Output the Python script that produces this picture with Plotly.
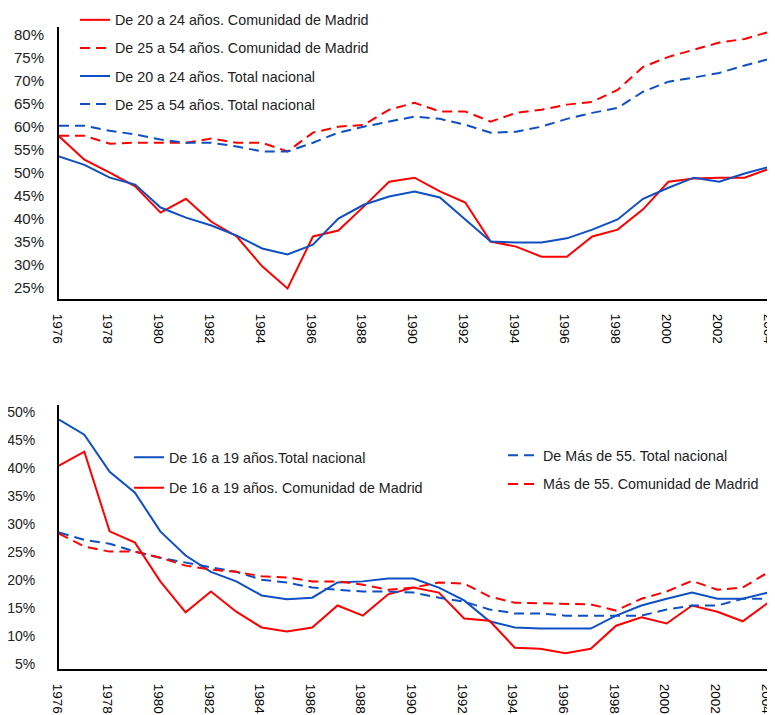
import plotly.graph_objects as go

years = list(range(1976, 2005))
tick_years = list(range(1976, 2005, 2))
tick_labels = [str(y) for y in tick_years]

# Top chart (% values)
madrid_20_24 = [57.9, 52.8, 50.0, 47.0, 41.3, 44.3, 39.3, 36.1, 29.6, 24.8,
                36.1, 37.4, 42.6, 48.0, 48.9, 45.9, 43.5, 35.0, 33.9, 31.7,
                31.7, 36.1, 37.6, 42.0, 48.0, 48.7, 48.9, 48.9, 50.9]
madrid_25_54 = [58.0, 58.0, 56.3, 56.5, 56.5, 56.5, 57.4, 56.5, 56.5, 54.6,
                58.7, 60.0, 60.4, 63.7, 65.2, 63.3, 63.3, 61.1, 63.0, 63.7,
                64.8, 65.4, 68.0, 73.0, 75.2, 76.7, 78.3, 79.1, 80.7]
nacional_20_24 = [53.5, 51.7, 48.9, 47.4, 42.4, 40.2, 38.5, 36.3, 33.5, 32.2,
                  34.3, 40.0, 43.0, 44.8, 45.9, 44.6, 39.8, 35.0, 34.8, 34.8,
                  35.7, 37.6, 39.8, 44.3, 46.7, 48.9, 48.0, 49.8, 51.3]
nacional_25_54 = [60.2, 60.2, 59.1, 58.3, 57.2, 56.5, 56.5, 55.7, 54.6, 54.6,
                  56.5, 58.7, 60.0, 61.1, 62.2, 61.7, 60.4, 58.7, 58.9, 60.0,
                  61.7, 63.0, 64.1, 67.6, 69.8, 70.7, 71.7, 73.3, 74.8]

# Bottom chart (% values)
nacional_16_19 = [48.6, 45.9, 39.3, 35.6, 28.7, 24.4, 21.5, 19.8, 17.3, 16.6,
                  16.9, 19.6, 19.8, 20.3, 20.3, 18.7, 16.4, 12.7, 11.6, 11.4,
                  11.4, 11.4, 13.7, 15.5, 16.7, 17.8, 16.7, 16.7, 17.8]
madrid_16_19 = [40.4, 42.9, 28.7, 26.7, 19.8, 14.3, 18.0, 14.4, 11.6, 10.9,
                11.6, 15.5, 13.7, 17.5, 18.7, 17.8, 13.2, 12.8, 8.0, 7.8,
                7.0, 7.8, 11.9, 13.4, 12.3, 15.5, 14.4, 12.7, 16.0]
nacional_55 = [28.5, 27.2, 26.5, 25.1, 24.0, 23.1, 22.3, 21.5, 20.1, 19.6,
               18.7, 18.3, 18.0, 18.0, 17.8, 16.9, 16.2, 14.8, 14.1, 14.1,
               13.7, 13.7, 13.7, 13.7, 14.8, 15.5, 15.5, 16.7, 16.7]
madrid_55 = [28.3, 26.0, 25.1, 25.1, 24.0, 22.6, 21.9, 21.5, 20.7, 20.5,
             19.8, 19.8, 19.2, 18.3, 18.7, 19.6, 19.4, 17.1, 16.0, 15.9,
             15.7, 15.7, 14.6, 16.7, 18.0, 19.9, 18.3, 18.7, 21.4]

RED = "#FF0000"
BLUE = "#0F4FC4"
DASH = "10px,6px"
LEG_FONT = dict(family="Liberation Sans Narrow, Arial Narrow, Liberation Sans, Arial, sans-serif",
                size=14.3, color="#222222")

fig = go.Figure()

def add(y, name, color, dash, xa, ya, legend, group):
    fig.add_trace(go.Scatter(
        x=years, y=y, name=name, mode="lines",
        line=dict(color=color, width=2, dash=dash),
        xaxis=xa, yaxis=ya, legend=legend, legendgroup=group,
    ))

add(madrid_20_24, "De 20 a 24 años. Comunidad de Madrid", RED, "solid", "x", "y", "legend", "a")
add(madrid_25_54, "De 25 a 54 años. Comunidad de Madrid", RED, DASH, "x", "y", "legend", "b")
add(nacional_20_24, "De 20 a 24 años. Total nacional", BLUE, "solid", "x", "y", "legend", "c")
add(nacional_25_54, "De 25 a 54 años. Total nacional", BLUE, DASH, "x", "y", "legend", "d")

add(nacional_16_19, "De 16 a 19 años.Total nacional", BLUE, "solid", "x2", "y2", "legend2", "e")
add(madrid_16_19, "De 16 a 19 años. Comunidad de Madrid", RED, "solid", "x2", "y2", "legend2", "f")
add(nacional_55, "De Más de 55. Total nacional", BLUE, DASH, "x2", "y2", "legend3", "g")
add(madrid_55, "Más de 55. Comunidad de Madrid", RED, DASH, "x2", "y2", "legend3", "h")

xcommon = dict(
    tickmode="array", tickvals=tick_years, ticktext=tick_labels, tickangle=90,
    showline=True, linecolor="black", linewidth=2, showgrid=False, zeroline=False,
    ticks="", tickfont=dict(family="Liberation Sans, Arial, sans-serif", size=13.5, color="black"),
    ticklabelstandoff=10, ticklabelshift=-2, ticklabeloverflow="allow", automargin=False,
)
ycommon = dict(
    showline=True, linecolor="black", linewidth=2, showgrid=False, zeroline=False,
    ticks="", ticksuffix="%", dtick=5, automargin=False,
)

# The page body adds an 8px offset, so the figure is 767x707 to fill the 775x715 window.
fig.update_layout(
    width=767, height=707,
    margin=dict(l=51, r=5, t=0, b=46, autoexpand=False),
    plot_bgcolor="white", paper_bgcolor="white",
    xaxis=dict(domain=[0, 1], range=[1976, 2004], anchor="y", **xcommon),
    yaxis=dict(domain=[0.5598, 0.9713], range=[22.5, 81.7], anchor="x",
               tick0=25, tickfont=dict(family="Liberation Sans, Arial, sans-serif", size=15, color="#222222"),
               ticklabelstandoff=10, **ycommon),
    xaxis2=dict(domain=[0, 0.9972], range=[1976, 2004], anchor="y2", **xcommon),
    yaxis2=dict(domain=[0, 0.3994], range=[4.2, 51.2], anchor="x2",
                tick0=5, tickfont=dict(family="Liberation Sans, Arial, sans-serif", size=14, color="#222222"),
                ticklabelstandoff=19, **ycommon),
    legend=dict(x=0.0225, y=1.006, xanchor="left", yanchor="top", font=LEG_FONT,
                bgcolor="rgba(0,0,0,0)", traceorder="grouped", tracegroupgap=6.5),
    legend2=dict(x=0.0985, y=0.3442, xanchor="left", yanchor="top", font=LEG_FONT,
                 bgcolor="rgba(0,0,0,0)", traceorder="grouped", tracegroupgap=9),
    legend3=dict(x=0.6245, y=0.3472, xanchor="left", yanchor="top", font=LEG_FONT,
                 bgcolor="rgba(0,0,0,0)", traceorder="grouped", tracegroupgap=7),
    showlegend=True,
)

fig.write_html("out.html")
